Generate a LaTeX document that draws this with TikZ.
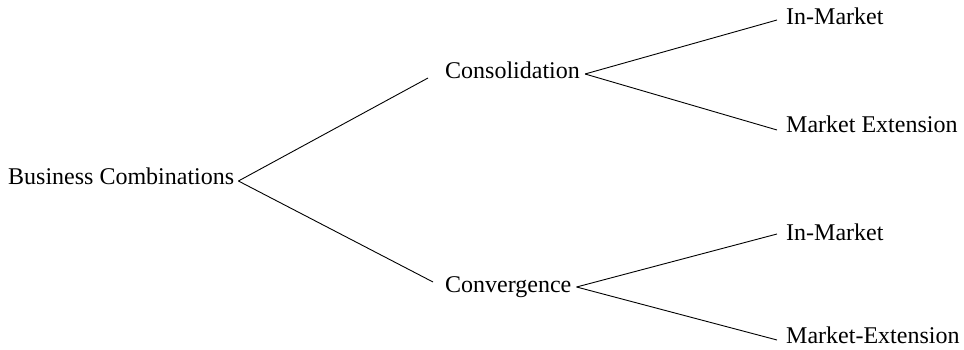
\documentclass[tikz,border=0pt]{standalone}
\usepackage{fontspec}
\setmainfont{Liberation Serif}
\begin{document}
\begin{tikzpicture}[x=1pt,y=1pt,
  lbl/.style={inner sep=0pt, anchor=base west, font=\fontsize{24}{28}\selectfont},
  conn/.style={draw=black, line width=0.9pt}]
\useasboundingbox (0,0) rectangle (964,-350);
\node[lbl] (bc)  at (8,-185)   {Business Combinations};
\node[lbl] (con) at (445,-79)  {Consolidation};
\node[lbl] (cvg) at (445,-292) {Convergence};
\node[lbl] (im1) at (786,-25)  {In-Market};
\node[lbl] (me1) at (786,-133) {Market Extension};
\node[lbl] (im2) at (786,-240) {In-Market};
\node[lbl] (me2) at (786,-343) {Market-Extension};
\draw[conn] ([shift={(4,4)}]bc.base east) -- ([shift={(-17,1)}]con.base west);
\draw[conn] ([shift={(4,4)}]bc.base east) -- ([shift={(-12,10)}]cvg.base west);
\draw[conn] ([shift={(5,5)}]con.base east) -- ([shift={(-9,5)}]im1.base west);
\draw[conn] ([shift={(5,5)}]con.base east) -- ([shift={(-9,3)}]me1.base west);
\draw[conn] ([shift={(5,5)}]cvg.base east) -- ([shift={(-9,6)}]im2.base west);
\draw[conn] ([shift={(5,5)}]cvg.base east) -- ([shift={(-9,3)}]me2.base west);
\end{tikzpicture}
\end{document}
